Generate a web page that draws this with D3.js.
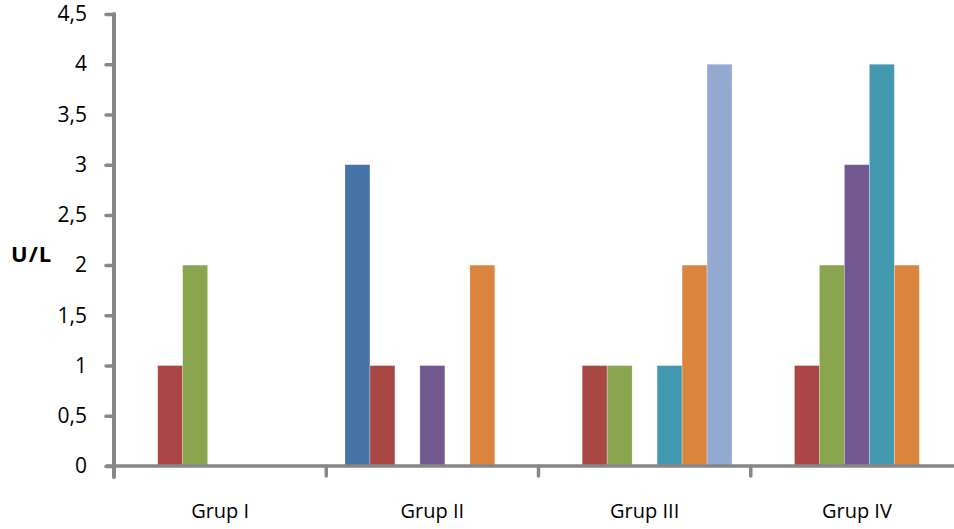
<!DOCTYPE html>
<html>
<head>
<meta charset="utf-8">
<script src="https://cdn.jsdelivr.net/npm/d3@7"></script>
<style>
  html, body { margin: 0; padding: 0; background: #fff; }
  svg { display: block; }
  text { font-family: "Open Sans", "Noto Sans", sans-serif; fill: #000; }
</style>
</head>
<body>
<svg id="chart" width="954" height="529"></svg>
<script>
// Groups along the x axis
const categories = ["Grup I", "Grup II", "Grup III", "Grup IV"];
// Series names (one bar per series inside each group)
const seriesNames = ["S1", "S2", "S3", "S4", "S5", "S6", "S7"];
const seriesColors = ["#4572A7", "#AA4643", "#89A54E", "#71588F", "#4198AF", "#DB843D", "#93A9CF"];
// Values in U/L, one array per series, ordered like categories
const s1 = [0, 3, 0, 0];
const s2 = [1, 1, 1, 1];
const s3 = [2, 0, 1, 2];
const s4 = [0, 1, 0, 3];
const s5 = [0, 0, 1, 4];
const s6 = [0, 2, 2, 2];
const s7 = [0, 0, 4, 0];
const seriesValues = [s1, s2, s3, s4, s5, s6, s7];
const yTicks = [0, 0.5, 1, 1.5, 2, 2.5, 3, 3.5, 4, 4.5];
const yLabel = "U/L";

const svg = d3.select("#chart");
const axisColor = "#878787";

const plot = { left: 114, right: 963, top: 14, bottom: 466 };

const x0 = d3.scaleBand().domain(categories).range([plot.left, plot.right]).padding(0);
const bandW = x0.bandwidth();
const inner = bandW * 0.0882;
const x1 = d3.scaleBand().domain(seriesNames).range([inner, bandW - inner]).padding(0);
const y = d3.scaleLinear().domain([0, 4.5]).range([plot.bottom, plot.top]);

const fmt = v => String(v).replace(".", ",");

// Bars
const groups = svg.append("g").selectAll("g")
  .data(categories)
  .join("g")
  .attr("transform", d => `translate(${x0(d)},0)`);

groups.selectAll("rect")
  .data((c, ci) => seriesNames.map((s, si) => ({ s, si, v: seriesValues[si][ci] })).filter(d => d.v > 0))
  .join("rect")
  .attr("x", d => x1(d.s))
  .attr("width", x1.bandwidth())
  .attr("y", d => y(d.v))
  .attr("height", d => y(0) - y(d.v))
  .attr("fill", d => seriesColors[d.si])
  .attr("stroke", "rgba(255,255,255,0.35)")
  .attr("stroke-width", 0.8);

// Y axis
const yAxis = d3.axisLeft(y).tickValues(yTicks).tickFormat(fmt).tickSize(8).tickPadding(19);
const gy = svg.append("g").attr("transform", `translate(${plot.left},0)`).call(yAxis);
gy.select(".domain").remove();
gy.append("line")
  .attr("x1", 0).attr("x2", 0)
  .attr("y1", plot.top).attr("y2", plot.bottom + 11)
  .attr("stroke", axisColor).attr("stroke-width", 4).attr("stroke-linecap", "round");
gy.selectAll(".tick line").attr("stroke", axisColor).attr("stroke-width", 3.5).attr("stroke-linecap", "round");
gy.selectAll(".tick text").attr("font-size", 21).attr("fill", "#000").attr("font-family", "'Open Sans', sans-serif");

// X axis
const xAxis = d3.axisBottom(x0).tickSize(0).tickPadding(38);
const gx = svg.append("g").attr("transform", `translate(0,${plot.bottom})`).call(xAxis);
gx.select(".domain").remove();
gx.append("line")
  .attr("x1", plot.left - 8).attr("x2", 954)
  .attr("y1", 0).attr("y2", 0)
  .attr("stroke", axisColor).attr("stroke-width", 3.5);
gx.selectAll(".cat-tick")
  .data(categories.slice(1))
  .join("line")
  .attr("class", "cat-tick")
  .attr("x1", d => x0(d)).attr("x2", d => x0(d))
  .attr("y1", 0).attr("y2", 10)
  .attr("stroke", axisColor).attr("stroke-width", 3.5).attr("stroke-linecap", "round");
gx.selectAll(".tick text").attr("font-size", 20).attr("fill", "#000").attr("font-family", "'Open Sans', sans-serif");

// Axis title
svg.append("text")
  .attr("x", 11).attr("y", 262)
  .attr("font-size", 22).attr("font-weight", "bold")
  .attr("letter-spacing", 1)
  .text(yLabel);
</script>
</body>
</html>
